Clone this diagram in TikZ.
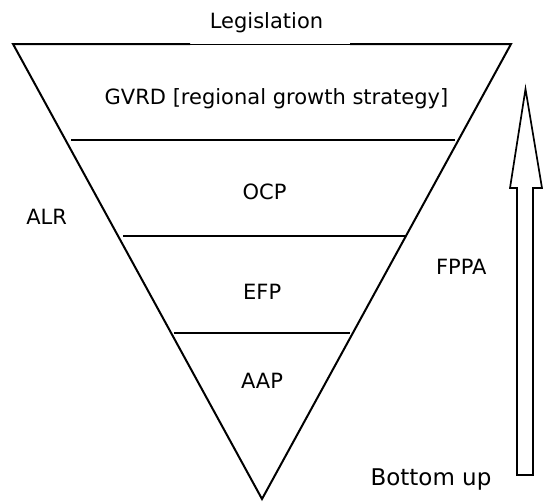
\documentclass[tikz,border=0pt]{standalone}
\usepackage{fontspec}
\setmainfont{DejaVu Sans}
\begin{document}
\begin{tikzpicture}[x=1pt,y=-1pt,
  edge/.style={line width=2pt,line join=miter},
  layer/.style={line width=2pt},
  lbl/.style={anchor=base,inner sep=0pt,font=\fontsize{21}{25}\selectfont},
  biglbl/.style={anchor=base,inner sep=0pt,font=\fontsize{23}{27}\selectfont},
  blockarrow/.style={line width=1.7pt,line join=miter}]
\useasboundingbox (0,0) rectangle (545,501);
% funnel corners
\coordinate (tl) at (13,44);
\coordinate (tr) at (511,44);
\coordinate (ap) at (262,499);
\coordinate (gl) at (190,44);
\coordinate (gr) at (350,44);
\draw[edge] (gl) -- (tl) -- (ap) -- (tr) -- (gr);
\draw[line width=1pt] (gl) -- (gr);
% layer lines
\coordinate (l1a) at (71,140);  \coordinate (l1b) at (455,140);
\coordinate (l2a) at (123,236); \coordinate (l2b) at (406,236);
\coordinate (l3a) at (174,333); \coordinate (l3b) at (350,333);
\draw[layer] (l1a) -- (l1b);
\draw[layer] (l2a) -- (l2b);
\draw[layer] (l3a) -- (l3b);
% labels
\node[lbl] (leg) at (266.5,28.5) {Legislation};
\node[lbl] (gvrd) at (276.5,104.5) {GVRD [regional growth strategy]};
\node[lbl] (ocp) at (264.5,199.4) {OCP};
\node[lbl] (alr) at (46.7,224.5) {ALR};
\node[lbl] (efp) at (262.2,299.4) {EFP};
\node[lbl] (fppa) at (461.3,274.4) {FPPA};
\node[lbl] (aap) at (262,388.3) {AAP};
\node[biglbl] (bu) at (431,485.7) {Bottom up};
% block arrow
\coordinate (a1) at (517,475);
\coordinate (a2) at (533,475);
\coordinate (a3) at (533,188);
\coordinate (a4) at (542,188);
\coordinate (a5) at (525.5,89);
\coordinate (a6) at (510,188);
\coordinate (a7) at (517,188);
\draw[blockarrow] (a1) -- (a2) -- (a3) -- (a4) -- (a5) -- (a6) -- (a7) -- cycle;
\end{tikzpicture}
\end{document}
